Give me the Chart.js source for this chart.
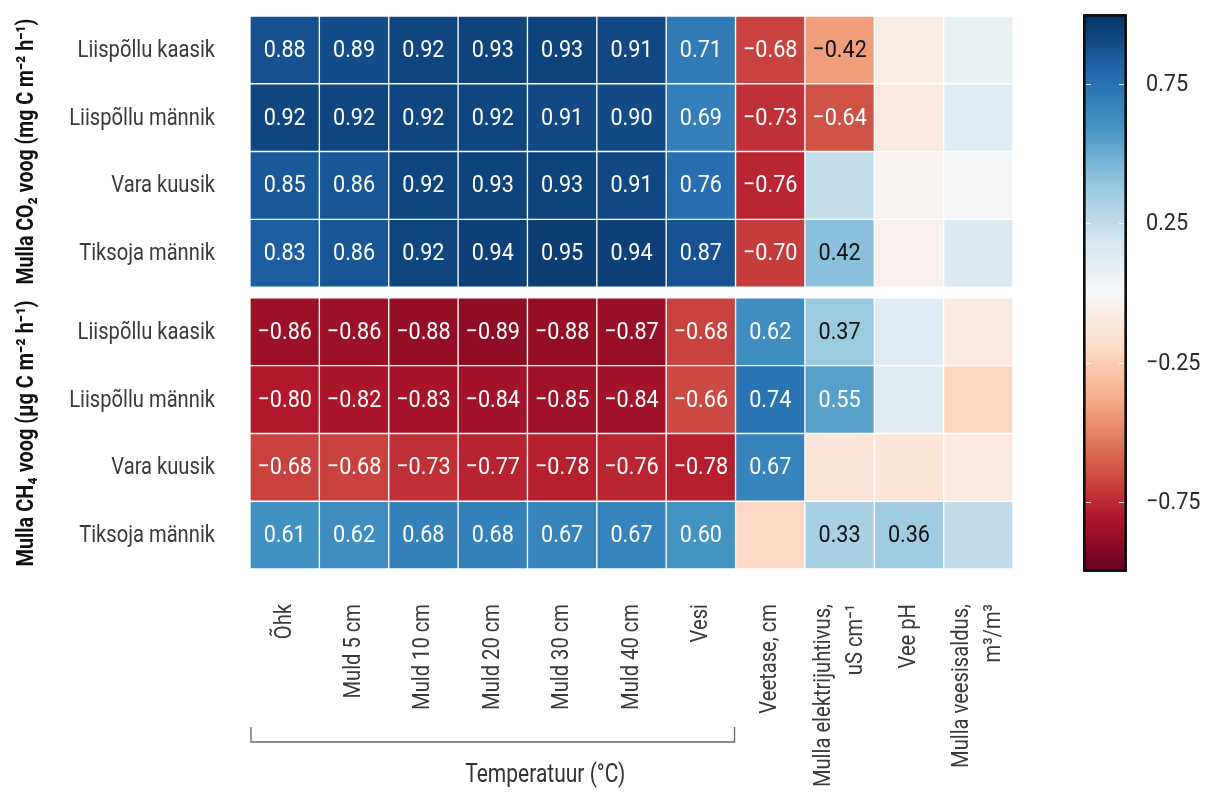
<!DOCTYPE html>
<html>
<head>
<meta charset="utf-8">
<script src="https://cdn.jsdelivr.net/npm/chart.js@4/dist/chart.umd.min.js"></script>
<style>
  html, body { margin: 0; padding: 0; background: #fff; }
  #wrap { position: relative; width: 1207px; height: 794px; }
  #heat { position: absolute; left: 0; top: 0; }
  #bar { position: absolute; left: 1060px; top: 0; }
</style>
</head>
<body>
<div id="wrap">
  <canvas id="heat" width="1207" height="794"></canvas>
  <canvas id="bar" width="147" height="794"></canvas>
</div>
<script>
// columns (x) and rows (y)
const columns = [
  "Õhk", "Muld 5 cm", "Muld 10 cm", "Muld 20 cm", "Muld 30 cm", "Muld 40 cm", "Vesi",
  "Veetase, cm", ["Mulla elektrijuhtivus,", "uS cm⁻¹"], "Vee pH", ["Mulla veesisaldus,", "m³/m³"]
];
const sites = ["Liispõllu kaasik", "Liispõllu männik", "Vara kuusik", "Tiksoja männik"];

// correlations, soil CO2 flux
const co2Values = [
  [0.88, 0.89, 0.92, 0.93, 0.93, 0.91, 0.71, -0.68, -0.42, -0.08, 0.08],
  [0.92, 0.92, 0.92, 0.92, 0.91, 0.90, 0.69, -0.73, -0.64, -0.10, 0.12],
  [0.85, 0.86, 0.92, 0.93, 0.93, 0.91, 0.76, -0.76, 0.24, -0.03, 0.02],
  [0.83, 0.86, 0.92, 0.94, 0.95, 0.94, 0.87, -0.70, 0.42, -0.04, 0.15]
];
// correlations, soil CH4 flux
const ch4Values = [
  [-0.86, -0.86, -0.88, -0.89, -0.88, -0.87, -0.68, 0.62, 0.37, 0.12, -0.10],
  [-0.80, -0.82, -0.83, -0.84, -0.85, -0.84, -0.66, 0.74, 0.55, 0.11, -0.22],
  [-0.68, -0.68, -0.73, -0.77, -0.78, -0.76, -0.78, 0.67, -0.13, -0.13, -0.10],
  [0.61, 0.62, 0.68, 0.68, 0.67, 0.67, 0.60, -0.21, 0.33, 0.36, 0.25]
];
// 1 = value printed in cell (significant)
const co2Shown = [
  [1, 1, 1, 1, 1, 1, 1, 1, 1, 0, 0],
  [1, 1, 1, 1, 1, 1, 1, 1, 1, 0, 0],
  [1, 1, 1, 1, 1, 1, 1, 1, 0, 0, 0],
  [1, 1, 1, 1, 1, 1, 1, 1, 1, 0, 0]
];
const ch4Shown = [
  [1, 1, 1, 1, 1, 1, 1, 1, 1, 0, 0],
  [1, 1, 1, 1, 1, 1, 1, 1, 1, 0, 0],
  [1, 1, 1, 1, 1, 1, 1, 1, 0, 0, 0],
  [1, 1, 1, 1, 1, 1, 1, 0, 1, 1, 0]
];
const groupTitles = ["Mulla CO₂ voog (mg C m⁻² h⁻¹)", "Mulla CH₄ voog (µg C m⁻² h⁻¹)"];
const colorbarTicks = [-0.75, -0.25, 0.25, 0.75];

const FONT = "Roboto, 'DejaVu Sans', sans-serif";
const SQUEEZE = 0.84; // narrow the lettering like the condensed face of the original
const GAP = 0.16;     // space between the two blocks, in row units

// matplotlib RdBu
const rdbu = ["#67001f", "#b2182b", "#d6604d", "#f4a582", "#fddbc7", "#f7f7f7",
              "#d1e5f0", "#92c5de", "#4393c3", "#2166ac", "#053061"];

function hexToRgb(h) {
  return [parseInt(h.slice(1, 3), 16), parseInt(h.slice(3, 5), 16), parseInt(h.slice(5, 7), 16)];
}
function colorFor(v) {
  const t = Math.max(0, Math.min(1, (v + 1) / 2)) * (rdbu.length - 1);
  const i = Math.min(rdbu.length - 2, Math.floor(t));
  const f = t - i;
  const a = hexToRgb(rdbu[i]), b = hexToRgb(rdbu[i + 1]);
  const c = a.map((x, k) => Math.round(x + (b[k] - x) * f));
  return `rgb(${c[0]},${c[1]},${c[2]})`;
}
function fmt(v) {
  return v.toFixed(2).replace("-", "−");
}

// condensed text helper
function label(ctx, text, x, y, o) {
  ctx.save();
  ctx.translate(x, y);
  if (o.rotate) ctx.rotate(o.rotate);
  ctx.scale(o.sx || SQUEEZE, 1);
  ctx.font = `${o.weight || "normal"} ${o.size}px ${FONT}`;
  ctx.fillStyle = o.color || "#333";
  ctx.textAlign = o.align || "center";
  ctx.textBaseline = "middle";
  ctx.fillText(text, 0, 0);
  ctx.restore();
}

const allValues = co2Values.concat(ch4Values);
const allShown = co2Shown.concat(ch4Shown);
const rowLabels = sites.concat(sites);
const rowTop = (r) => (r < 4 ? r : r + GAP);

const datasets = allValues.map((row, r) => ({
  label: rowLabels[r],
  data: row.map(() => [rowTop(r), rowTop(r) + 1]),
  backgroundColor: row.map(colorFor),
  borderColor: "rgba(255,255,255,0.4)",
  borderWidth: 1,
  borderSkipped: false,
  grouped: false,
  barPercentage: 1,
  categoryPercentage: 1
}));

// numbers inside the cells, axis labels, group titles, temperature bracket
const heatDecor = {
  id: "heatDecor",
  afterDatasetsDraw(chart) {
    const ctx = chart.ctx;
    const x = chart.scales.x;
    const y = chart.scales.y;

    chart.data.datasets.forEach((ds, r) => {
      chart.getDatasetMeta(r).data.forEach((el, c) => {
        if (!allShown[r][c]) return;
        const v = allValues[r][c];
        label(ctx, fmt(v), el.x, (el.y + el.base) / 2 + 1, {
          size: 24, sx: 0.9, color: Math.abs(v) >= 0.5 ? "#ffffff" : "#111111"
        });
      });
    });

    // row labels from the y scale ticks
    y.ticks.forEach((t, i) => {
      label(ctx, rowLabels[i], 215, y.getPixelForTick(i) + 1, { size: 24, align: "right", color: "#3a3a3a" });
    });

    // column labels from the x scale ticks, rotated
    x.ticks.forEach((t, i) => {
      const cx = x.getPixelForTick(i);
      const text = columns[i];
      const lines = Array.isArray(text) ? text : [text];
      lines.forEach((line, k) => {
        const off = lines.length === 1 ? 0 : (k === 0 ? -16 : 16);
        label(ctx, line, cx + off, 604, { size: 24, align: "right", rotate: -Math.PI / 2, color: "#3a3a3a" });
      });
    });

    // rotated group titles
    [[0, 4], [4 + GAP, 8 + GAP]].forEach((span, i) => {
      const cy = (y.getPixelForValue(span[0]) + y.getPixelForValue(span[1])) / 2;
      ctx.save();
      ctx.font = `bold 24px ${FONT}`;
      const w = ctx.measureText(groupTitles[i]).width;
      ctx.restore();
      label(ctx, groupTitles[i], 27, cy, {
        size: 24, weight: "bold", rotate: -Math.PI / 2, sx: 266 / w, color: "#111"
      });
    });

    // bracket under the temperature columns
    const half = (x.getPixelForValue(1) - x.getPixelForValue(0)) / 2;
    const x0 = x.getPixelForValue(0) - half + 1;
    const x1 = x.getPixelForValue(6) + half - 1;
    ctx.save();
    ctx.strokeStyle = "#666";
    ctx.lineWidth = 1.3;
    ctx.beginPath();
    ctx.moveTo(x0, 727);
    ctx.lineTo(x0, 742);
    ctx.lineTo(x1, 742);
    ctx.lineTo(x1, 727);
    ctx.stroke();
    ctx.restore();
    label(ctx, "Temperatuur (°C)", (x0 + x.getPixelForValue(8)) / 2, 776, { size: 25, color: "#333" });
  }
};

new Chart(document.getElementById("heat"), {
  type: "bar",
  data: { labels: columns, datasets: datasets },
  options: {
    responsive: false,
    animation: false,
    events: [],
    layout: { padding: { left: 0, right: 194, top: 16, bottom: 0 } },
    plugins: { legend: { display: false }, tooltip: { enabled: false } },
    scales: {
      x: {
        type: "category",
        grid: { display: false, drawTicks: false },
        border: { display: false },
        ticks: { display: false },
        afterFit(scale) { scale.height = 794 - 569; scale.paddingLeft = 0; scale.paddingRight = 0; }
      },
      y: {
        type: "linear",
        reverse: true,
        min: 0,
        max: 8 + GAP,
        grid: { display: false, drawTicks: false },
        border: { display: false },
        afterBuildTicks(scale) {
          scale.ticks = rowLabels.map((_, r) => ({ value: rowTop(r) + 0.5 }));
        },
        ticks: { display: false },
        afterFit(scale) { scale.width = 250; scale.paddingTop = 0; scale.paddingBottom = 0; }
      }
    }
  },
  plugins: [heatDecor]
});

// colour bar
const colorbarDecor = {
  id: "colorbarDecor",
  afterDatasetsDraw(chart) {
    const ctx = chart.ctx;
    const y = chart.scales.y;
    const a = chart.chartArea;
    ctx.save();
    ctx.strokeStyle = "rgba(255,255,255,0.8)";
    ctx.lineWidth = 1;
    colorbarTicks.concat([0]).forEach((v) => {
      const py = Math.round(y.getPixelForValue(v)) + 0.5;
      ctx.beginPath();
      ctx.moveTo(a.left + 3, py); ctx.lineTo(a.left + 8, py);
      ctx.moveTo(a.right - 8, py); ctx.lineTo(a.right - 3, py);
      ctx.stroke();
    });
    ctx.restore();
    y.ticks.forEach((t, i) => {
      label(ctx, fmt(t.value), 86, y.getPixelForTick(i) + 1, { size: 24, sx: 0.9, align: "left", color: "#2a2a2a" });
    });
  }
};

new Chart(document.getElementById("bar"), {
  type: "bar",
  data: {
    labels: [""],
    datasets: [{
      data: [[-1, 1]],
      backgroundColor(c) {
        const chart = c.chart;
        if (!chart.chartArea) return "#ccc";
        const ys = chart.scales.y;
        const g = chart.ctx.createLinearGradient(0, ys.getPixelForValue(-1), 0, ys.getPixelForValue(1));
        rdbu.forEach((col, i) => g.addColorStop(i / (rdbu.length - 1), col));
        return g;
      },
      borderColor: "#111",
      borderWidth: 3,
      borderSkipped: false,
      borderRadius: 2,
      barPercentage: 1,
      categoryPercentage: 1
    }]
  },
  options: {
    responsive: false,
    animation: false,
    events: [],
    layout: { padding: { left: 23, right: 0, top: 14, bottom: 794 - 572 } },
    plugins: { legend: { display: false }, tooltip: { enabled: false } },
    scales: {
      x: { display: false },
      y: {
        position: "right",
        min: -1,
        max: 1,
        grid: { display: false, drawTicks: false },
        border: { display: false },
        afterBuildTicks(scale) {
          scale.ticks = colorbarTicks.map((v) => ({ value: v }));
        },
        ticks: { display: false },
        afterFit(scale) { scale.width = 147 - 23 - 44; scale.paddingTop = 0; scale.paddingBottom = 0; }
      }
    }
  },
  plugins: [colorbarDecor]
});
</script>
</body>
</html>
